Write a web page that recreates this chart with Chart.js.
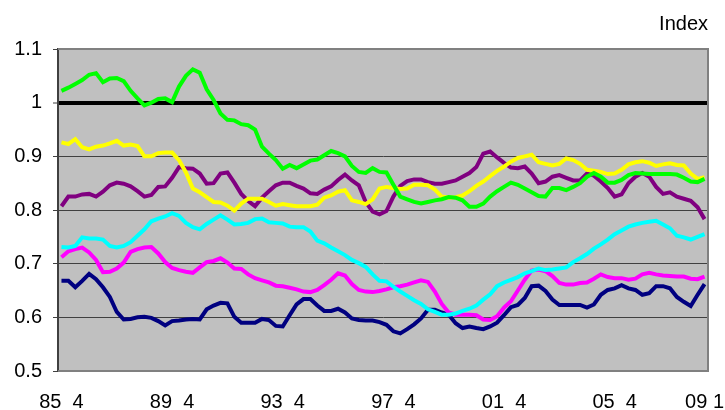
<!DOCTYPE html>
<html>
<head>
<meta charset="utf-8">
<script src="https://cdn.jsdelivr.net/npm/chart.js@4.4.1/dist/chart.umd.min.js"></script>
<style>
  html, body { margin: 0; padding: 0; background: #ffffff; }
  #wrap { width: 725px; height: 410px; }
</style>
</head>
<body>
<div id="wrap"><canvas id="chart" width="725" height="410"></canvas></div>
<script>
//? quarters from 85 Q4 to 09 Q1
const FIRST_YEAR = 1985;
const FIRST_QUARTER = 4;
const QUARTER_COUNT = 94;

//? only these categories get a label under the axis
const tickIndexes = [0, 16, 32, 48, 64, 80, 93];
const tickLabels = ['85  4', '89  4', '93  4', '97  4', '01  4', '05  4', '09 1'];

const yTicks = [0.5, 0.6, 0.7, 0.8, 0.9, 1.0, 1.1];

const greenValues = [
    1.022, 1.028, 1.035, 1.042, 1.052, 1.055, 1.038, 1.045, 1.046, 1.040,
    1.022, 1.008, 0.995, 1.000, 1.007, 1.008, 1.001, 1.030, 1.050, 1.062,
    1.056, 1.025, 1.005, 0.980, 0.968, 0.967, 0.960, 0.958, 0.950, 0.918,
    0.905, 0.893, 0.877, 0.884, 0.878, 0.885, 0.892, 0.894, 0.902, 0.910,
    0.906, 0.900, 0.882, 0.871, 0.869, 0.878, 0.871, 0.870, 0.847, 0.825,
    0.820, 0.815, 0.812, 0.815, 0.818, 0.820, 0.824, 0.823, 0.818, 0.806,
    0.806, 0.812, 0.825, 0.835, 0.843, 0.851, 0.847, 0.840, 0.833, 0.826,
    0.825, 0.841, 0.841, 0.837, 0.843, 0.850, 0.862, 0.869, 0.862, 0.851,
    0.851, 0.856, 0.865, 0.869, 0.868, 0.867, 0.867, 0.867, 0.867, 0.866,
    0.860, 0.853, 0.852, 0.858
];
const yellowValues = [
    0.926, 0.923, 0.932, 0.917, 0.913, 0.918, 0.920, 0.924, 0.929, 0.920,
    0.922, 0.919, 0.900, 0.900, 0.906, 0.907, 0.907, 0.893, 0.870, 0.840,
    0.833, 0.824, 0.815, 0.814, 0.808, 0.799, 0.812, 0.821, 0.821, 0.821,
    0.815, 0.808, 0.811, 0.809, 0.807, 0.807, 0.807, 0.810, 0.823, 0.827,
    0.834, 0.837, 0.818, 0.815, 0.811, 0.820, 0.840, 0.843, 0.841, 0.839,
    0.840, 0.847, 0.847, 0.846, 0.838, 0.825, 0.823, 0.824, 0.827, 0.835,
    0.845, 0.853, 0.863, 0.873, 0.881, 0.890, 0.897, 0.900, 0.903, 0.889,
    0.886, 0.883, 0.886, 0.896, 0.893, 0.886, 0.875, 0.873, 0.871, 0.867,
    0.868, 0.875, 0.885, 0.889, 0.891, 0.888, 0.882, 0.885, 0.887, 0.884,
    0.883, 0.868, 0.858, 0.861
];
const purpleValues = [
    0.807, 0.825, 0.825, 0.829, 0.830, 0.825, 0.834, 0.846, 0.851, 0.849,
    0.844, 0.835, 0.825, 0.828, 0.843, 0.844, 0.860, 0.880, 0.878, 0.877,
    0.868, 0.849, 0.850, 0.868, 0.870, 0.851, 0.830, 0.817, 0.807, 0.823,
    0.835, 0.846, 0.851, 0.851, 0.845, 0.840, 0.831, 0.830, 0.838, 0.844,
    0.856, 0.866, 0.855, 0.846, 0.815, 0.797, 0.792, 0.798, 0.825, 0.845,
    0.854, 0.857, 0.857, 0.852, 0.849, 0.849, 0.852, 0.855, 0.862, 0.869,
    0.880, 0.905, 0.909, 0.898, 0.888, 0.879, 0.878, 0.881, 0.868, 0.850,
    0.853, 0.862, 0.865, 0.860, 0.855, 0.855, 0.868, 0.864, 0.853, 0.841,
    0.825, 0.829, 0.850, 0.862, 0.869, 0.862, 0.843, 0.830, 0.833, 0.825,
    0.821, 0.817, 0.805, 0.783
];
const cyanValues = [
    0.731, 0.730, 0.733, 0.749, 0.747, 0.747, 0.745, 0.733, 0.730, 0.733,
    0.740, 0.752, 0.764, 0.779, 0.784, 0.788, 0.794, 0.789, 0.776, 0.768,
    0.764, 0.774, 0.782, 0.790, 0.782, 0.773, 0.774, 0.776, 0.783, 0.784,
    0.777, 0.776, 0.775, 0.769, 0.768, 0.768, 0.760, 0.743, 0.738, 0.730,
    0.723, 0.716, 0.707, 0.701, 0.694, 0.680, 0.668, 0.667, 0.657, 0.648,
    0.640, 0.632, 0.625, 0.615, 0.610, 0.605, 0.605, 0.607, 0.612, 0.616,
    0.622, 0.633, 0.643, 0.658, 0.665, 0.670, 0.675, 0.682, 0.686, 0.691,
    0.688, 0.689, 0.691, 0.693, 0.703, 0.710, 0.718, 0.728, 0.736, 0.745,
    0.755, 0.762, 0.769, 0.773, 0.776, 0.778, 0.780, 0.773, 0.766, 0.752,
    0.749, 0.745, 0.750, 0.755
];
const magentaValues = [
    0.712, 0.723, 0.727, 0.730, 0.721, 0.707, 0.684, 0.685, 0.691, 0.702,
    0.722, 0.727, 0.730, 0.731, 0.719, 0.703, 0.692, 0.688, 0.685, 0.683,
    0.693, 0.703, 0.705, 0.710, 0.702, 0.691, 0.690, 0.680, 0.673, 0.669,
    0.665, 0.659, 0.658, 0.655, 0.652, 0.648, 0.647, 0.651, 0.660, 0.670,
    0.682, 0.678, 0.662, 0.651, 0.648, 0.647, 0.649, 0.652, 0.656, 0.658,
    0.661, 0.665, 0.669, 0.666, 0.648, 0.625, 0.609, 0.605, 0.605, 0.605,
    0.604, 0.596, 0.595, 0.602, 0.618, 0.630, 0.650, 0.670, 0.687, 0.689,
    0.686, 0.677, 0.664, 0.661, 0.661, 0.664, 0.665, 0.672, 0.680, 0.675,
    0.673, 0.673, 0.670, 0.672, 0.680, 0.683, 0.680, 0.678, 0.677, 0.676,
    0.676, 0.672, 0.671, 0.676
];
const navyValues = [
    0.668, 0.668, 0.656, 0.668, 0.681, 0.671, 0.656, 0.638, 0.610, 0.596,
    0.597, 0.600, 0.601, 0.599, 0.593, 0.585, 0.593, 0.594, 0.596, 0.597,
    0.596, 0.615, 0.622, 0.627, 0.626, 0.601, 0.590, 0.590, 0.590, 0.597,
    0.595, 0.584, 0.583, 0.604, 0.624, 0.634, 0.634, 0.622, 0.612, 0.612,
    0.616, 0.609, 0.598, 0.595, 0.594, 0.594, 0.591, 0.586, 0.574, 0.570,
    0.578, 0.587, 0.598, 0.614, 0.614, 0.609, 0.605, 0.589, 0.580, 0.583,
    0.580, 0.578, 0.583, 0.590, 0.604, 0.619, 0.623, 0.636, 0.658, 0.659,
    0.649, 0.633, 0.623, 0.623, 0.623, 0.623, 0.618, 0.624, 0.642, 0.651,
    0.654, 0.660, 0.654, 0.651, 0.642, 0.645, 0.658, 0.658, 0.654, 0.638,
    0.629, 0.621, 0.642, 0.662
];

/* -------------------------------------------------------------------------- */

const quarterLabels = [];
for (let i = 0; i < QUARTER_COUNT; i++) {
    const n = FIRST_QUARTER - 1 + i;
    const year = FIRST_YEAR + Math.floor(n / 4);
    quarterLabels.push(String(year % 100).padStart(2, '0') + ' ' + (n % 4 + 1));
}

function lineSet(data, color) {
    return {
        data: data,
        borderColor: color,
        backgroundColor: color,
        borderWidth: 4,
        pointRadius: 0,
        tension: 0,
        fill: false
    };
}

const isValue = (v, target) => Math.abs(v - target) < 1e-6;

//! grey plot area + frame on top/right/bottom
const plotFrame = {
    id: 'plotFrame',
    beforeDraw: (chart) => {
        const { ctx, chartArea } = chart;
        ctx.save();
        ctx.fillStyle = '#c0c0c0';
        ctx.fillRect(chartArea.left, chartArea.top, chartArea.right - chartArea.left, chartArea.bottom - chartArea.top);
        ctx.restore();
    },
    afterDatasetsDraw: (chart) => {
        const { ctx, chartArea } = chart;
        ctx.save();
        ctx.strokeStyle = '#808080';
        ctx.lineWidth = 2;
        ctx.beginPath();
        ctx.moveTo(chartArea.left, chartArea.top);
        ctx.lineTo(chartArea.right, chartArea.top);
        ctx.lineTo(chartArea.right, chartArea.bottom);
        ctx.lineTo(chartArea.left, chartArea.bottom);
        ctx.stroke();
        ctx.restore();
    }
};

Chart.defaults.font.family = "'Liberation Sans', Arial, sans-serif";
Chart.defaults.color = '#000000';

const chart = new Chart('chart', {
    type: 'line',
    data: {
        labels: quarterLabels,
        datasets: [
            lineSet(greenValues, '#00ff00'),
            lineSet(yellowValues, '#ffff00'),
            lineSet(purpleValues, '#800080'),
            lineSet(cyanValues, '#00ffff'),
            lineSet(magentaValues, '#ff00ff'),
            lineSet(navyValues, '#000080')
        ]
    },
    options: {
        responsive: false,
        animation: false,
        layout: { padding: { right: 17 } },
        scales: {
            x: {
                offset: true,
                grid: { display: false },
                border: { display: false },
                ticks: {
                    autoSkip: false,
                    maxRotation: 0,
                    padding: 11,
                    font: { size: 20 },
                    callback: (value, index) => {
                        const k = tickIndexes.indexOf(index);
                        return k >= 0 ? tickLabels[k] : '';
                    }
                },
                afterFit: (scale) => {
                    scale.height = 39;
                    scale.paddingLeft = 0;
                    scale.paddingRight = 0;
                }
            },
            y: {
                min: yTicks[0],
                max: yTicks[yTicks.length - 1],
                afterBuildTicks: (scale) => {
                    scale.ticks = yTicks.map(v => ({ value: v }));
                },
                ticks: {
                    padding: 11,
                    font: { size: 20 },
                    callback: (value) => String(+value.toFixed(1))
                },
                grid: {
                    color: (ctx) => {
                        const v = ctx.tick ? ctx.tick.value : 0;
                        if (isValue(v, 1)) return '#000000';
                        if (isValue(v, 0.5) || isValue(v, 1.1)) return 'rgba(0,0,0,0)';
                        return '#404040';
                    },
                    lineWidth: (ctx) => (ctx.tick && isValue(ctx.tick.value, 1)) ? 4 : 1,
                    tickColor: '#404040',
                    tickWidth: 1,
                    tickLength: 5
                },
                border: { color: '#404040', width: 2 },
                afterFit: (scale) => {
                    scale.width = 58;
                }
            }
        },
        plugins: {
            legend: { display: false },
            tooltip: { enabled: false },
            title: {
                display: true,
                text: 'Index',
                align: 'end',
                color: '#000000',
                font: { size: 20, weight: 'normal' },
                padding: { top: 12, bottom: 13 }
            }
        }
    },
    plugins: [plotFrame]
});
</script>
</body>
</html>
